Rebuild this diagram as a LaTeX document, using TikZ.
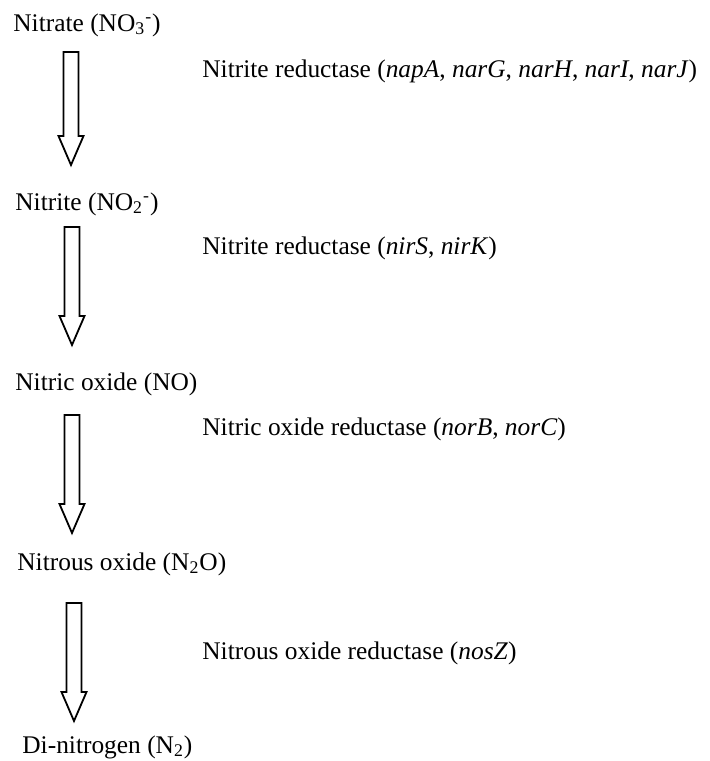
\documentclass[tikz,border=0pt]{standalone}
\usepackage{fontspec}
\setmainfont{Liberation Serif}
\usepackage{tikz}
\usetikzlibrary{calc}

\begin{document}
\begin{tikzpicture}[
    x=0.5pt, y=-0.5pt,
    species/.style={anchor=base west, inner sep=0pt, font=\fontsize{12.7}{15}\selectfont},
    enzyme/.style={anchor=base west, inner sep=0pt, font=\fontsize{12.7}{15}\selectfont},
    blockarr/.style={draw, line width=0.9pt, line join=miter,
      to path={let \p1=(\tikztostart), \p2=(\tikztotarget) in
        (\x1-3.75pt,\y1) -- (\x1+3.75pt,\y1) -- (\x1+3.75pt,\y2+14.5pt)
        -- (\x1+6.25pt,\y2+14.5pt) -- (\x1,\y2) -- (\x1-6.25pt,\y2+14.5pt)
        -- (\x1-3.75pt,\y2+14.5pt) -- cycle}},
]
\useasboundingbox (0,0) rectangle (709,761);
\node[species] (nitrate) at (13, 31) {Nitrate (NO\textsubscript{3}\textsuperscript{-})};
\node[species] (nitrite) at (15, 210) {Nitrite (NO\textsubscript{2}\textsuperscript{-})};
\node[species] (nitricox) at (15, 390) {Nitric oxide (NO)};
\node[species] (nitrousox) at (17, 570) {Nitrous oxide (N\textsubscript{2}O)};
\node[species] (dinitrogen) at (22, 753) {Di-nitrogen (N\textsubscript{2})};
\node[enzyme] (narenz) at (202, 77)
  {Nitrite reductase (\textit{napA}, \textit{narG}, \textit{narH}, \textit{narI}, \textit{narJ})};
\node[enzyme] (nirenz) at (202, 254) {Nitrite reductase (\textit{nirS}, \textit{nirK})};
\node[enzyme] (norenz) at (202, 435) {Nitric oxide reductase (\textit{norB}, \textit{norC})};
\node[enzyme] (nosenz) at (202, 659) {Nitrous oxide reductase (\textit{nosZ})};
\draw[blockarr] ([shift={(58,21)}]nitrate.base west) to ([shift={(58,-45)}]nitrite.base west);
\draw[blockarr] ([shift={(57,17)}]nitrite.base west) to ([shift={(57,-45)}]nitricox.base west);
\draw[blockarr] ([shift={(57,25)}]nitricox.base west) to ([shift={(57,-37)}]nitrousox.base west);
\draw[blockarr] ([shift={(57,33)}]nitrousox.base west) to ([shift={(52,-32)}]dinitrogen.base west);
\end{tikzpicture}
\end{document}
